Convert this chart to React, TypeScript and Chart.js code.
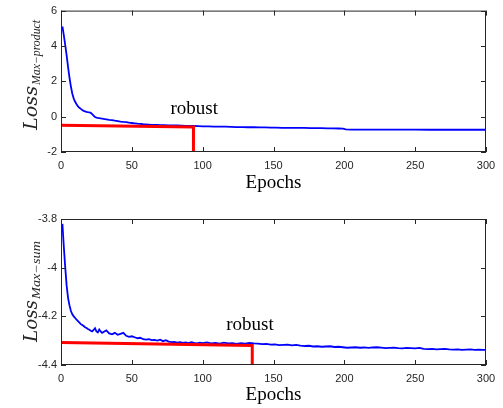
import React, { useEffect, useRef } from "react";
import { Chart, registerables } from "chart.js";
Chart.register(...registerables);

// ---------- data ----------
const xTicks = [0, 50, 100, 150, 200, 250, 300];
const yTicksTop = [-2, 0, 2, 4, 6];
const yTicksBottom = [-4.4, -4.2, -4, -3.8];

const epochsTop = [
  1, 2, 3, 4, 5, 6, 7, 8, 9, 10, 11, 12, 13, 14, 15, 16, 17, 18, 19, 20, 21, 22, 23, 24, 25, 26, 27, 28, 29, 30,
  32, 34, 36, 38, 40, 42, 44, 46, 48, 50, 52, 54, 56, 58, 60, 62, 64, 66, 68, 70, 73, 76, 79, 82, 85, 88, 91, 94, 97,
  100, 104, 108, 112, 116, 120, 124, 128, 132, 136, 140, 144, 148, 152, 156, 160, 164, 168, 172, 176, 180, 184, 188,
  192, 196, 199, 201, 205, 210, 220, 230, 240, 250, 260, 270, 280, 290, 300,
];
const lossMaxProduct = [
  5.1, 4.6, 4.05, 3.45, 2.8, 2.2, 1.7, 1.3, 1.02, 0.84, 0.7, 0.58, 0.5, 0.44, 0.38, 0.33, 0.3, 0.27, 0.25, 0.24, 0.22,
  0.14, 0.06, -0.02, -0.05, -0.07, -0.08, -0.1, -0.11, -0.13,
  -0.15, -0.18, -0.2, -0.23, -0.25, -0.28, -0.3, -0.31, -0.34, -0.36, -0.38, -0.4, -0.41, -0.43, -0.44, -0.45, -0.46,
  -0.47, -0.47, -0.48, -0.48, -0.49, -0.5, -0.5, -0.51, -0.52, -0.52, -0.53, -0.54,
  -0.55, -0.55, -0.56, -0.57, -0.57, -0.58, -0.59, -0.59, -0.6, -0.6, -0.61, -0.61, -0.62, -0.62, -0.63, -0.63, -0.63,
  -0.64, -0.64, -0.65, -0.65, -0.65, -0.66, -0.66, -0.67, -0.68, -0.72, -0.73, -0.73, -0.73, -0.73, -0.735, -0.735,
  -0.74, -0.74, -0.74, -0.74, -0.74,
];
const robustTopEpochs = [0, 93.5, 93.5];
const robustTopLoss = [-0.48, -0.58, -2];

const epochsBottom = [
  1, 2, 3, 4, 5, 6, 7, 8, 9, 10, 11, 12, 13, 14, 15, 16, 17, 18, 19, 20, 21, 22, 23, 24, 25, 26, 27, 28, 29, 30,
  32, 34, 36, 38, 40, 42, 44, 46, 48, 50, 52, 54, 56, 58, 60, 62, 64, 66, 68, 70, 72, 74, 76, 78, 80, 82, 84, 86, 88,
  90, 92, 94, 96, 98, 100, 103, 106, 109, 112, 115, 118, 121, 124, 127, 130, 133, 136, 139, 142, 145, 148, 151, 154,
  157, 160, 163, 166, 169, 172, 175, 178, 181, 184, 187, 190, 193, 196, 199, 202, 205, 208, 211, 214, 217, 220, 223,
  226, 229, 232, 235, 238, 241, 244, 247, 250, 253, 256, 259, 262, 265, 268, 271, 274, 277, 280, 283, 286, 289, 292,
  295, 298, 300,
];
const lossMaxSum = [
  -3.82, -3.915, -4.0, -4.075, -4.125, -4.155, -4.178, -4.192, -4.2, -4.207, -4.214, -4.22, -4.226, -4.232, -4.236,
  -4.24, -4.245, -4.248, -4.252, -4.255, -4.259, -4.262, -4.256, -4.249, -4.262, -4.266, -4.254, -4.262, -4.268, -4.264,
  -4.258, -4.27, -4.274, -4.268, -4.276, -4.272, -4.268, -4.28, -4.284, -4.282, -4.286, -4.29, -4.288, -4.294, -4.296,
  -4.294, -4.298, -4.297, -4.3, -4.296, -4.302, -4.298, -4.304, -4.306, -4.305, -4.308, -4.306, -4.309, -4.307, -4.31,
  -4.306, -4.309, -4.311, -4.308, -4.31, -4.307, -4.311, -4.309, -4.312, -4.308, -4.311, -4.31, -4.313, -4.31, -4.312,
  -4.309, -4.311, -4.312, -4.314, -4.313, -4.316, -4.315, -4.318, -4.317, -4.316, -4.319, -4.317, -4.32, -4.322, -4.321,
  -4.324, -4.323, -4.325, -4.324, -4.323, -4.326, -4.325, -4.327, -4.329, -4.328, -4.327, -4.329, -4.328, -4.33, -4.328,
  -4.327, -4.329, -4.331, -4.33, -4.329, -4.331, -4.332, -4.33, -4.331, -4.332, -4.33, -4.334, -4.335, -4.334, -4.336,
  -4.335, -4.334, -4.336, -4.337, -4.336, -4.338, -4.337, -4.336, -4.338, -4.337, -4.338, -4.338,
];
const robustBottomEpochs = [0, 135, 135];
const robustBottomLoss = [-4.308, -4.32, -4.4];

// ---------- panel ----------
type PanelProps = {
  height: number;
  areaTop: number;
  xAxisHeight: number;
  yMin: number;
  yMax: number;
  yTicks: number[];
  epochs: number[];
  loss: number[];
  redX: number[];
  redY: number[];
  subText: string;
  titleStart: number;
  mainLen: number;
  subLen: number;
  robustX: number;
  robustY: number;
  epochsGap: number;
};

const AXIS = "#262626";

function drawStretched(ctx: CanvasRenderingContext2D, text: string, font: string, x: number, y: number, len: number) {
  ctx.font = font;
  const w = ctx.measureText(text).width;
  ctx.save();
  ctx.translate(x, y);
  ctx.scale(len / w, 1);
  ctx.fillText(text, 0, 0);
  ctx.restore();
}

function Panel(p: PanelProps) {
  const ref = useRef<HTMLCanvasElement | null>(null);
  useEffect(() => {
    if (!ref.current) return;
    const deco = {
      id: "deco",
      afterDraw(chart: any) {
        const ctx: CanvasRenderingContext2D = chart.ctx;
        const a = chart.chartArea;
        const xs = chart.scales.x;
        const ys = chart.scales.y;
        ctx.save();
        ctx.strokeStyle = AXIS;
        ctx.lineWidth = 1;
        ctx.strokeRect(a.left + 0.5, a.top + 0.5, a.right - a.left - 1, a.bottom - a.top - 1);
        ctx.beginPath();
        for (const v of xTicks) {
          const px = Math.round(xs.getPixelForValue(v)) + 0.5;
          ctx.moveTo(px, a.bottom);
          ctx.lineTo(px, a.bottom - 5);
          ctx.moveTo(px, a.top);
          ctx.lineTo(px, a.top + 5);
        }
        for (const v of p.yTicks) {
          const py = Math.round(ys.getPixelForValue(v)) + 0.5;
          ctx.moveTo(a.left, py);
          ctx.lineTo(a.left + 5, py);
          ctx.moveTo(a.right, py);
          ctx.lineTo(a.right - 5, py);
        }
        ctx.stroke();

        // x title
        ctx.fillStyle = "#000";
        ctx.textAlign = "center";
        ctx.textBaseline = "middle";
        ctx.font = '19px "Liberation Serif"';
        ctx.fillText("Epochs", (a.left + a.right) / 2, a.bottom + p.epochsGap);

        // robust label
        ctx.textBaseline = "alphabetic";
        ctx.fillText("robust", xs.getPixelForValue(p.robustX), ys.getPixelForValue(p.robustY));

        // y title (rotated)
        ctx.save();
        ctx.translate(37, p.titleStart);
        ctx.rotate(-Math.PI / 2);
        ctx.fillStyle = AXIS;
        ctx.textAlign = "left";
        ctx.textBaseline = "alphabetic";
        drawStretched(ctx, "Loss", 'italic 19px "DejaVu Serif"', 0, 0, p.mainLen);
        drawStretched(ctx, p.subText, 'italic 12px "Liberation Serif"', p.mainLen + 1, 3, p.subLen);
        ctx.restore();
        ctx.restore();
      },
    };

    const chart = new Chart(ref.current, {
      type: "line",
      data: {
        datasets: [
          {
            data: p.redX.map((x, i) => ({ x, y: p.redY[i] })),
            borderColor: "#ff0000",
            borderWidth: 3,
            pointRadius: 0,
            tension: 0,
          },
          {
            data: p.epochs.map((x, i) => ({ x, y: p.loss[i] })),
            borderColor: "#0000ff",
            borderWidth: 1.8,
            pointRadius: 0,
            tension: 0,
          },
        ],
      },
      options: {
        responsive: false,
        animation: false,
        devicePixelRatio: 1,
        layout: { padding: { left: 0, top: p.areaTop, right: 17, bottom: 0 } },
        plugins: { legend: { display: false }, tooltip: { enabled: false } },
        scales: {
          x: {
            type: "linear",
            min: 0,
            max: 300,
            afterBuildTicks: (s: any) => {
              s.ticks = xTicks.map((v) => ({ value: v }));
            },
            afterFit: (s: any) => {
              s.height = p.xAxisHeight;
            },
            grid: { display: false, drawTicks: false },
            border: { display: false },
            ticks: {
              padding: 7,
              color: AXIS,
              font: { family: '"Liberation Sans", Arial, sans-serif', size: 11 },
              maxRotation: 0,
              autoSkip: false,
              callback: (v: any) => String(v),
            },
          },
          y: {
            type: "linear",
            min: p.yMin,
            max: p.yMax,
            afterBuildTicks: (s: any) => {
              s.ticks = p.yTicks.map((v) => ({ value: v }));
            },
            afterFit: (s: any) => {
              s.width = 61;
            },
            grid: { display: false, drawTicks: false },
            border: { display: false },
            ticks: {
              padding: 4,
              color: AXIS,
              font: { family: '"Liberation Sans", Arial, sans-serif', size: 11 },
              autoSkip: false,
              callback: (v: any) => String(Math.round(Number(v) * 10) / 10),
            },
          },
        },
      } as any,
      plugins: [deco],
    });
    return () => chart.destroy();
  }, []);
  return <canvas ref={ref} width={503} height={p.height} style={{ display: "block" }} />;
}

export default function App() {
  return (
    <div style={{ position: "fixed", left: 0, top: 0, width: 503, height: 408, background: "#fff" }}>
      <Panel
        height={204}
        areaTop={6}
        xAxisHeight={52}
        yMin={-2}
        yMax={6}
        yTicks={yTicksTop}
        epochs={epochsTop}
        loss={lossMaxProduct}
        redX={robustTopEpochs}
        redY={robustTopLoss}
        subText={"Max\u2212product"}
        titleStart={130}
        mainLen={44}
        subLen={65}
        robustX={94}
        robustY={0.14}
        epochsGap={31}
      />
      <Panel
        height={204}
        areaTop={15}
        xAxisHeight={43}
        yMin={-4.4}
        yMax={-3.8}
        yTicks={yTicksBottom}
        epochs={epochsBottom}
        loss={lossMaxSum}
        redX={robustBottomEpochs}
        redY={robustBottomLoss}
        subText={"Max\u2212sum"}
        titleStart={138}
        mainLen={42}
        subLen={58}
        robustX={133.4}
        robustY={-4.256}
        epochsGap={30}
      />
    </div>
  );
}
